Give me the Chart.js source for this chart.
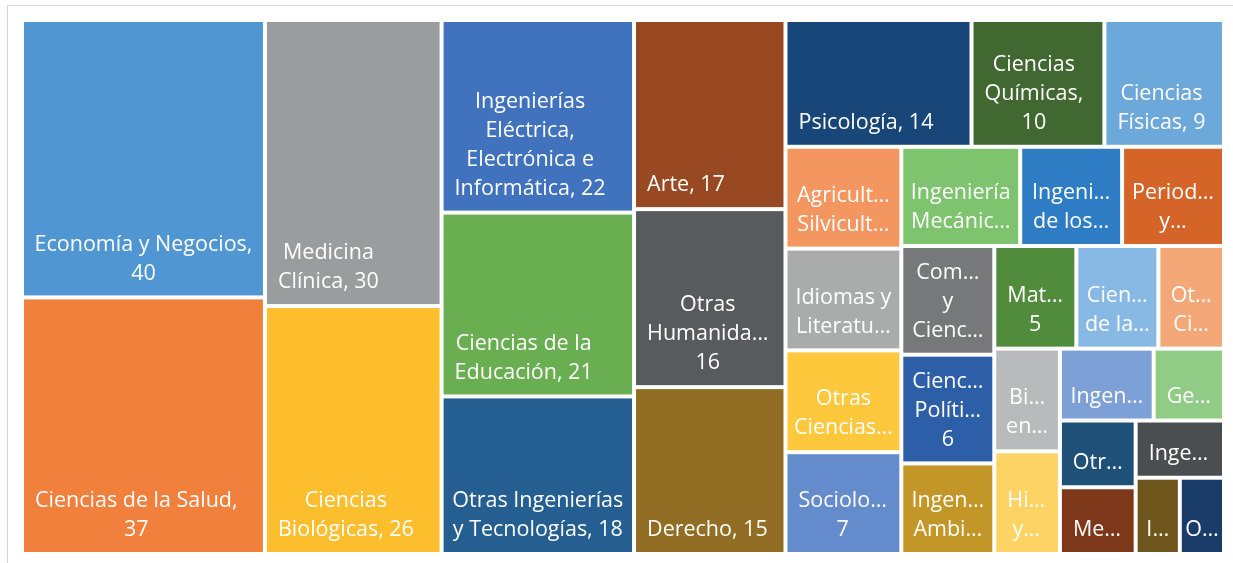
<!DOCTYPE html>
<html lang="es">
<head>
  <meta charset="UTF-8" />
  <title>Áreas de conocimiento</title>
  <script src="https://cdn.jsdelivr.net/npm/chart.js"></script>
  <style>
    * { box-sizing: border-box; margin: 0; padding: 0; }
    html, body { width: 1233px; height: 563px; background: #ffffff; overflow: hidden; }
    /* marco gris del gráfico */
    .frame {
      position: absolute; left: 7px; top: 5px; width: 1240px; height: 570px;
      border-left: 1px solid #d6d6d6; border-top: 1px solid #d6d6d6;
    }
    .wrap { position: absolute; left: 0; top: 0; width: 1233px; height: 563px; }
  </style>
</head>
<body>
  <div class="frame"></div>
  <div class="wrap"><canvas id="treemap"></canvas></div>

  <script>
    // Áreas (en el orden en que se reparten en el mapa)
    const categories = [
      'Economía y Negocios', 'Ciencias de la Salud', 'Medicina Clínica', 'Ciencias Biológicas',
      'Ingenierías Eléctrica, Electrónica e Informática', 'Ciencias de la Educación',
      'Otras Ingenierías y Tecnologías', 'Arte', 'Otras Humanidades', 'Derecho', 'Psicología',
      'Ciencias Químicas', 'Ciencias Físicas', 'Agricultura, Silvicultura y Pesca',
      'Idiomas y Literatura', 'Otras Ciencias Sociales', 'Sociología', 'Ingeniería Mecánica',
      'Ingeniería de los Materiales', 'Periodismo y Comunicaciones',
      'Computación y Ciencias de la Información', 'Ciencias Políticas', 'Ingeniería Ambiental',
      'Matemáticas', 'Ciencias de la Tierra y Medioambientales', 'Otras Ciencias Naturales',
      'Biotecnología en Salud', 'Historia y Arqueología', 'Geografía Social y Económica',
      'Ingeniería Civil', 'Otras Ciencias Agrícolas', 'Medicina Básica', 'Ingeniería Química',
      'Ingeniería Médica', 'Otras Ciencias Médicas'
    ];
    const counts = [
      40, 37, 30, 26, 22, 21, 18, 17, 16, 15, 14, 10, 9, 7, 7, 7, 7, 7,
      6, 6, 6, 6, 5, 5, 5, 4, 4, 4, 3, 4, 3, 3, 3, 2, 2
    ];
    const colors = [
      '#5096D2', '#F0803C', '#999D9E', '#FCBE2D', '#4172BE', '#6AAE52', '#255E91', '#984921',
      '#585B5D', '#916E23', '#184678', '#426832', '#6CA8DA', '#F4965F', '#AAACAC', '#FDC83C',
      '#648CCD', '#7EC46E', '#2E7DC4', '#D46428', '#76787A', '#2D5FA8', '#C39628', '#508C3C',
      '#87B9E4', '#F4A878', '#B9BABC', '#FDD464', '#91CC87', '#7DA0D7', '#1E5078', '#7D3719',
      '#4B4E50', '#6E551C', '#193C69'
    ];

    const LABEL_FONT = '21.5px "Open Sans"';
    const LINE_H = 29;

    // worst aspect ratio of a strip laid along a side
    function worst(row, side) {
      let s = 0, mx = 0, mn = Infinity;
      row.forEach(r => { s += r.a; mx = Math.max(mx, r.a); mn = Math.min(mn, r.a); });
      return Math.max(side * side * mx / (s * s), (s * s) / (side * side * mn));
    }

    // squarified layout, in a w x h box
    function squarify(vals, w, h) {
      const total = vals.reduce((a, b) => a + b, 0);
      const k = w * h / total;
      let items = vals.map((v, i) => ({ i, a: v * k }));
      const out = [];
      let x = 0, y = 0;
      while (items.length) {
        const side = Math.min(w, h);
        const row = [items[0]];
        let n = 1;
        while (n < items.length && worst(row.concat(items[n]), side) <= worst(row, side)) {
          row.push(items[n]); n++;
        }
        items = items.slice(n);
        const s = row.reduce((a, r) => a + r.a, 0);
        const placed = row.slice().sort((p, q) => q.a - p.a);
        if (w >= h) {
          const cw = s / h; let cy = y;
          placed.forEach(p => { const ch = p.a / cw; out[p.i] = { x, y: cy, w: cw, h: ch }; cy += ch; });
          x += cw; w -= cw;
        } else {
          const rh = s / w; let cx = x;
          placed.forEach(p => { const pw = p.a / rh; out[p.i] = { x: cx, y, w: pw, h: rh }; cx += pw; });
          y += rh; h -= rh;
        }
      }
      return out;
    }

    function ellipsize(ctx, t, maxW) {
      while (t.length > 1 && ctx.measureText(t + '…').width > maxW) t = t.slice(0, -1);
      return t + '…';
    }

    // wrap words; a word too long for the cell is cut with an ellipsis
    function wrapLabel(ctx, text, maxW, cutW, maxLines) {
      const words = text.split(' ');
      const lines = [];
      let cur = '', stop = false;
      for (const wd of words) {
        const test = cur ? cur + ' ' + wd : wd;
        if (ctx.measureText(test).width <= maxW) { cur = test; continue; }
        if (cur) lines.push(cur);
        cur = '';
        if (ctx.measureText(wd).width <= maxW) { cur = wd; continue; }
        const f = ellipsize(ctx, wd, cutW);
        lines.push(f);
        if (f.length <= 2) { stop = true; break; }
      }
      if (cur && !stop) lines.push(cur);
      if (lines.length > maxLines) {
        const kept = lines.slice(0, maxLines);
        const last = kept[maxLines - 1];
        if (!last.endsWith('…')) kept[maxLines - 1] = ellipsize(ctx, last, maxW);
        return kept;
      }
      return lines;
    }

    const treemapPlugin = {
      id: 'treemapCells',
      afterDatasetsDraw(chart) {
        const { ctx, chartArea, scales } = chart;
        const ds = chart.data.datasets[0];
        const W = chartArea.right - chartArea.left;
        const H = chartArea.bottom - chartArea.top;
        const cells = squarify(ds.values, W, H);
        const gap = 2;
        ctx.save();
        cells.forEach((c, i) => {
          const x0 = scales.x.getPixelForValue(c.x / W) + gap;
          const x1 = scales.x.getPixelForValue((c.x + c.w) / W) - gap;
          const y0 = scales.y.getPixelForValue(c.y / H) + gap;
          const y1 = scales.y.getPixelForValue((c.y + c.h) / H) - gap;
          ctx.fillStyle = ds.backgroundColor[i];
          ctx.fillRect(x0, y0, x1 - x0, y1 - y0);

          // etiqueta
          const w = x1 - x0, h = y1 - y0;
          ctx.font = LABEL_FONT;
          const maxLines = Math.max(1, Math.floor((h - 13) / LINE_H));
          const lines = wrapLabel(ctx, ds.labels[i] + ', ' + ds.values[i], w - 11, w - 15, maxLines);
          const bw = Math.max(...lines.map(l => ctx.measureText(l).width));
          const left = x0 + Math.min(11, Math.max(2, (w - bw) / 2));
          ctx.fillStyle = '#ffffff';
          ctx.textAlign = 'center';
          ctx.textBaseline = 'middle';
          lines.forEach((l, j) => {
            const cy = y1 - 22 - (lines.length - 1 - j) * LINE_H;
            ctx.fillText(l, left + bw / 2, cy);
          });
        });
        ctx.restore();
      }
    };

    new Chart(document.getElementById('treemap'), {
      type: 'scatter',
      data: {
        datasets: [{
          label: 'Áreas',
          data: [],
          labels: categories,
          values: counts,
          backgroundColor: colors
        }]
      },
      options: {
        responsive: true,
        maintainAspectRatio: false,
        animation: false,
        layout: { padding: { left: 22, top: 20, right: 9, bottom: 9 } },
        plugins: { legend: { display: false }, tooltip: { enabled: false } },
        scales: {
          x: { type: 'linear', min: 0, max: 1, display: false },
          y: { type: 'linear', min: 0, max: 1, reverse: true, display: false }
        }
      },
      plugins: [treemapPlugin]
    });
  </script>
</body>
</html>
